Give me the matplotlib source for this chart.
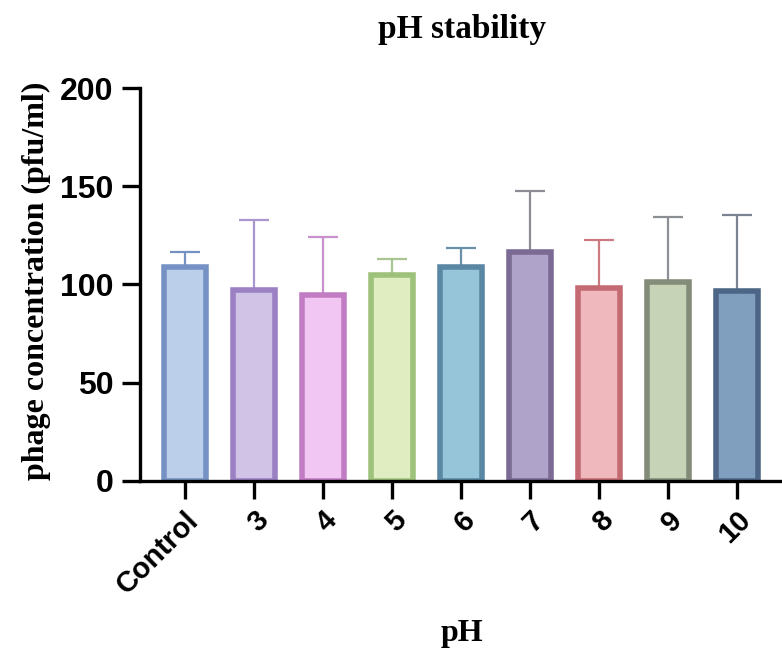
import numpy as np
import matplotlib
matplotlib.use('Agg')
import matplotlib.pyplot as plt

# values
labels = ['Control', '3', '4', '5', '6', '7', '8', '9', '10']
means  = [109, 97, 94.5, 105, 109, 116.5, 98, 101.5, 96.5]
errs   = [7.5, 36, 29.5, 8, 9.5, 31, 24.5, 33, 39]

fills  = ['#bccfea', '#d0c3e6', '#f2c6f2', '#dfedc0', '#96c4d8',
          '#b0a3c9', '#efb8bd', '#c6d3b6', '#809fbf']
edges  = ['#7692c4', '#9b80c4', '#c27cc4', '#9ec27c', '#5a87a3',
          '#7a6a94', '#c46a72', '#838c78', '#4d6687']
ecols  = ['#7692c4', '#a896cc', '#c890cc', '#a8c490', '#6a8fa8',
          '#8c8c96', '#cc7a82', '#8c9094', '#7c8494']

fig = plt.figure(figsize=(7.82, 6.57), dpi=100)
ax = fig.add_axes([0.179, 0.268, 0.818, 0.598])

x = np.arange(len(labels))
for i in x:
    ax.errorbar(x[i], means[i], yerr=[[0], [errs[i]]], fmt='none',
                ecolor=ecols[i], elinewidth=1.6, capsize=11, capthick=1.6,
                zorder=1)
    ax.bar(x[i], means[i], width=0.6, color=fills[i], edgecolor=edges[i],
           linewidth=4, zorder=2)

ax.set_xlim(-0.65, 8.62)
ax.set_ylim(0, 200)
ax.set_yticks([0, 50, 100, 150, 200])
ax.set_xticks(x)
ax.set_xticklabels(labels, rotation=45, ha='right', rotation_mode='anchor')

for s in ('top', 'right'):
    ax.spines[s].set_visible(False)
for s in ('left', 'bottom'):
    ax.spines[s].set_linewidth(2.4)
ax.tick_params(width=2.4, length=13)
ax.tick_params(axis='y', pad=6)
ax.tick_params(axis='x', pad=5)

for t in ax.get_yticklabels():
    t.set_fontfamily('Liberation Sans')
    t.set_fontweight('bold')
    t.set_fontsize(23)
for t in ax.get_xticklabels():
    t.set_fontfamily('Liberation Sans')
    t.set_fontweight('bold')
    t.set_fontsize(21)

serif = dict(family='Liberation Serif', weight='bold')
fig.text(0.047, 0.572, 'phage concentration (pfu/ml)', rotation=90,
         ha='center', va='center', fontsize=23, **serif)
fig.text(0.591, 0.955, 'pH stability', ha='center', va='center', fontsize=24, **serif)
fig.text(0.591, 0.036, 'pH', ha='center', va='center', fontsize=23, **serif)

fig.savefig('out.png', dpi=100)
